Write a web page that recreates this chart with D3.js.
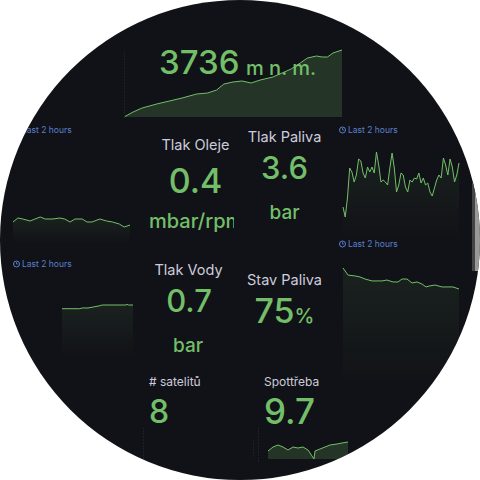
<!DOCTYPE html>
<html><head><meta charset="utf-8">
<script src="https://cdn.jsdelivr.net/npm/d3@7"></script>
<style>html,body{margin:0;padding:0;background:#fff;}svg{display:block;}</style>
</head><body>
<svg id="c" width="480" height="480"></svg>
<script>
// ---- data ----
const altitudeMinutes = [0,5,10,18,25,32,40,46,51,55,60,65,70,75,82,87,92,97,101,106,109,112,115,120];
const altitudeValues  = [3200,3240,3272,3304,3328,3352,3384,3392,3416,3464,3480,3488,3472,3496,3520,3552,3584,3632,3672,3688,3680,3680,3712,3736];

const leftTopMinutes = [0,5,10,17.5,22.5,28,33,41,48,53,58.5,63.5,71,76,81,89,96,102,109,114,120];
const leftTopValues  = [2.1,2.5,2.4,2.2,2.4,2.6,2.4,2.4,2.5,2.4,2.1,2.4,2.4,2.1,2.1,2.4,2.2,2.1,1.9,1.6,1.8];

const rightTopValues = [1.65,1.15,2.1,3.6,3.4,2.9,3.25,4.05,3.95,3.35,3.1,3.65,3.4,3.65,3.35,4.4,3.75,2.9,3.0,2.9,2.75,3.6,4.35,3.6,2.4,2.75,3.35,3.25,2.65,2.4,3.0,2.9,3.1,3.05,3.35,2.85,3.1,2.75,2.85,2.4,2.2,2.6,3.0,3.25,3.1,4.1,3.75,3.25,4.05,3.65,2.9,3.25,3.85];

const fuelMinutes = [0,5.2,12.4,17.6,22.8,30,40.3,45.5,51.7,56.9,61,66.2,71.4,76.6,81.7,85.9,89,95.2,102.4,108.6,113.8,120];
const fuelValues  = [91.4,85.9,85.2,84.4,82.8,81.3,81.3,82.0,80.5,80.5,82.8,82.8,79.7,80.5,78.9,76.6,77.3,78.1,76.6,76.6,76.6,75.0];

const waterMinutes = [0,30,34,44,51,64,68,108,110,112,120];
const waterValues  = [0.65,0.65,0.66,0.66,0.67,0.69,0.70,0.70,0.71,0.70,0.70];

const consumptionMinutes = [0,7.5,15,22.5,30,37.5,45,52.5,60,69,70.5,78,85.5,93,103.5,111,120];
const consumptionValues  = [8.35,8.95,9.25,8.95,8.5,8.95,8.8,8.95,8.5,7.15,8.35,8.65,8.95,9.25,9.4,9.55,9.7];

const rangeLabel = "Last 2 hours";
const titles = ["Tlak Oleje","Tlak Paliva","Tlak Vody","Stav Paliva","# satelitů","Spottřeba"];
const values = ["0.4","3.6","0.7","75","8","9.7"];
const units  = ["mbar/rpm","bar","bar","%","",""];
const altitudeUnit = "m n. m.";

// ---- drawing ----
const GREEN = "#73BF69", BG = "#111217", TITLE = "#ccccdc", BLUE = "#5a80d0";
const FONT = "Inter, 'Noto Sans', sans-serif";
const svg = d3.select("#c");
const defs = svg.append("defs");
defs.append("clipPath").attr("id","circ").append("circle").attr("cx",240).attr("cy",240).attr("r",240);
defs.append("clipPath").attr("id","unitclip").append("rect").attr("x",0).attr("y",0).attr("width",234).attr("height",480);
const grad = defs.append("linearGradient").attr("id","fade").attr("x1",0).attr("y1",0).attr("x2",0).attr("y2",1);
grad.append("stop").attr("offset","0%").attr("stop-color",GREEN).attr("stop-opacity",0.09);
grad.append("stop").attr("offset","100%").attr("stop-color",GREEN).attr("stop-opacity",0.0);

svg.append("rect").attr("width",480).attr("height",480).attr("fill","#fff");
const root = svg.append("g").attr("clip-path","url(#circ)");
root.append("rect").attr("width",480).attr("height",480).attr("fill",BG);

function spark(xs, ys, x, y, bottom, fill, fillOpacity) {
  const g = root.append("g");
  const area = d3.area().x((d,i)=>x(xs[i])).y0(bottom).y1((d,i)=>y(d));
  const line = d3.line().x((d,i)=>x(xs[i])).y((d,i)=>y(d));
  g.append("path").attr("d",area(ys)).attr("fill",fill).attr("fill-opacity",fillOpacity);
  g.append("path").attr("d",line(ys)).attr("fill","none").attr("stroke",GREEN).attr("stroke-width",1);
  return g;
}

// altitude
spark(altitudeMinutes, altitudeValues,
  d3.scaleLinear().domain([0,120]).range([124,342]),
  d3.scaleLinear().domain(d3.extent(altitudeValues)).range([117,50]), 117, GREEN, 0.2);
// left top
spark(leftTopMinutes, leftTopValues,
  d3.scaleLinear().domain([0,120]).range([13,130]),
  d3.scaleLinear().domain([0,2.6]).range([243,217]), 243, "url(#fade)", 1);
// right top noisy
spark(d3.range(rightTopValues.length), rightTopValues,
  d3.scaleLinear().domain([0,rightTopValues.length-1]).range([343,459]),
  d3.scaleLinear().domain([0,4.4]).range([240,152]), 240, "url(#fade)", 1);
// fuel
spark(fuelMinutes, fuelValues,
  d3.scaleLinear().domain([0,120]).range([343,459]),
  d3.scaleLinear().domain([0,100]).range([385,257]), 385, "url(#fade)", 1);
// water
spark(waterMinutes, waterValues,
  d3.scaleLinear().domain([0,120]).range([62,133]),
  d3.scaleLinear().domain([0,0.7]).range([357,305]), 357, "url(#fade)", 1);
// consumption
spark(consumptionMinutes, consumptionValues,
  d3.scaleLinear().domain([0,120]).range([268,348]),
  d3.scaleLinear().domain(d3.extent(consumptionValues)).range([459,442]), 459, GREEN, 0.2);

// faint panel edges
[[124,52,117],[143,427,462],[258,427,462],[253,440,458]].forEach(([x,y1,y2])=>{
  root.append("line").attr("x1",x+0.5).attr("x2",x+0.5).attr("y1",y1).attr("y2",y2)
    .attr("stroke","#1e2026").attr("stroke-width",1).attr("stroke-dasharray","2,1");
});
// edge scrollbar
root.append("rect").attr("x",472).attr("y",183).attr("width",3).attr("height",88).attr("fill","#444");
root.append("rect").attr("x",475).attr("y",183).attr("width",5).attr("height",88).attr("fill","#999");

// "Last 2 hours" labels
function rangeTag(x, yb) {
  const g = root.append("g");
  g.append("circle").attr("cx",x+3.5).attr("cy",yb-3).attr("r",3).attr("fill","none").attr("stroke",BLUE).attr("stroke-width",1);
  g.append("path").attr("d",`M${x+3.5},${yb-5}V${yb-3}H${x+5}`).attr("fill","none").attr("stroke",BLUE).attr("stroke-width",0.8);
  g.append("text").attr("x",x+9).attr("y",yb).text(rangeLabel)
    .attr("font-family",FONT).attr("font-size",8.5).attr("fill",BLUE);
}
rangeTag(13,133); rangeTag(339,133); rangeTag(13,267); rangeTag(339,247);

function txt(x, y, s, size, color, anchor, weight) {
  return root.append("text").attr("x",x).attr("y",y).text(s)
    .attr("font-family",FONT).attr("font-size",size).attr("fill",color)
    .attr("text-anchor",anchor||"start").attr("font-weight",weight||400);
}
// altitude value
txt(159,74,String(altitudeValues[altitudeValues.length-1]),33,GREEN,"start",500);
txt(246,75,altitudeUnit,20,GREEN,"start",500);

// Tlak Oleje
txt(195.5,150,titles[0],14.5,TITLE,"middle");
txt(195.5,193,values[0],34,GREEN,"middle",500);
txt(149,228,units[0],20,GREEN,"start",500).attr("clip-path","url(#unitclip)");
// Tlak Paliva
txt(284.5,142,titles[1],14.5,TITLE,"middle");
txt(284.5,179,values[1],31,GREEN,"middle",500);
txt(284.5,219,units[1],19,GREEN,"middle",500);
// Tlak Vody
txt(188.5,275,titles[2],14.5,TITLE,"middle");
txt(189,312,values[2],31,GREEN,"middle",500);
txt(188,352,units[2],19,GREEN,"middle",500);
// Stav Paliva
txt(284.5,285,titles[3],14.5,TITLE,"middle");
const sp = txt(284.5,323,"",34,GREEN,"middle",500);
sp.append("tspan").text(values[3]);
sp.append("tspan").attr("font-size",20).text(units[3]);
// satelitů
txt(149,386,titles[4],12,TITLE,"start");
txt(149,423,values[4],32,GREEN,"start",500);
// Spottřeba
txt(264,386,titles[5],12,TITLE,"start");
txt(264,424,values[5],35,GREEN,"start",500);
</script>
</body></html>
